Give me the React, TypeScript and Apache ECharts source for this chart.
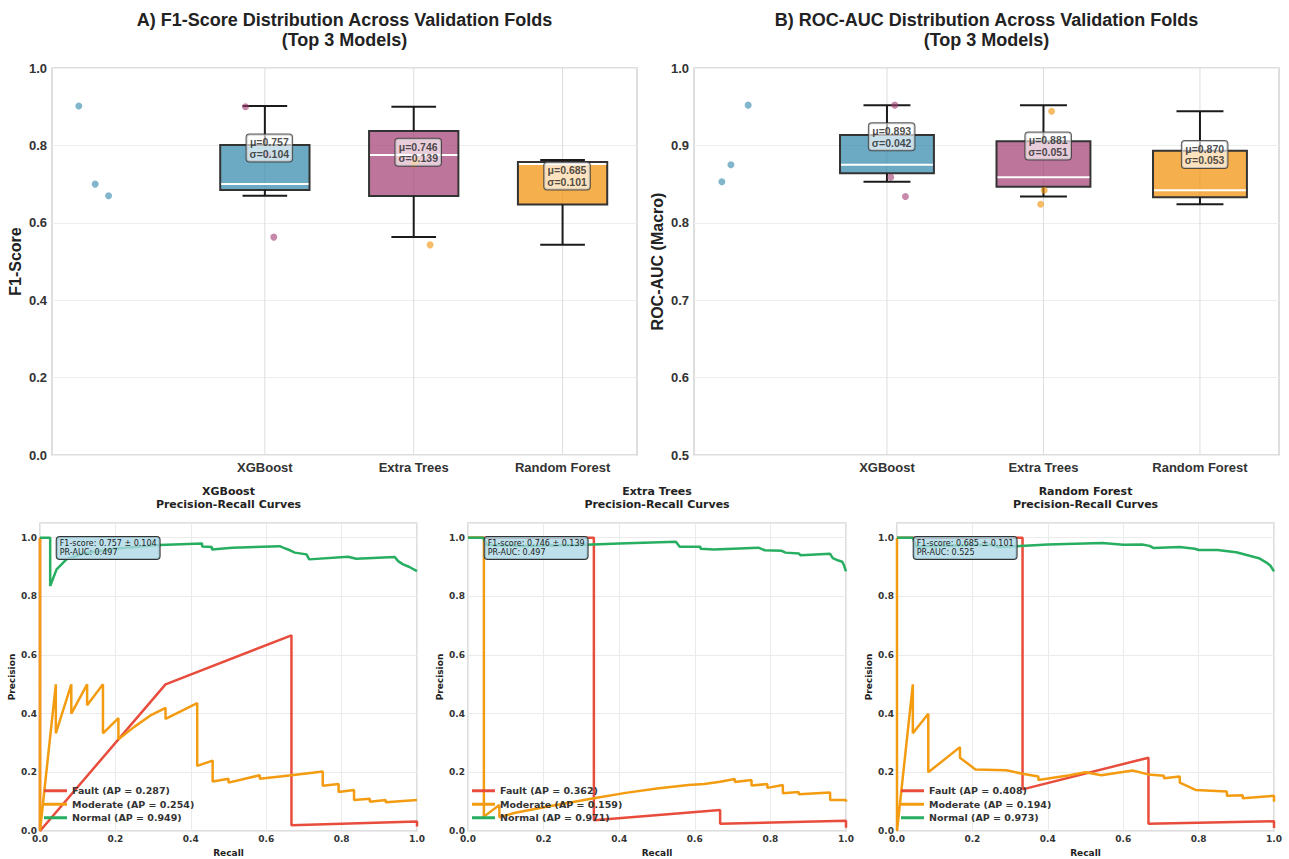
import React, { useEffect, useRef } from 'react';
import * as echarts from 'echarts';

// ---------------- data ----------------
const MODELS = ['XGBoost', 'Extra Trees', 'Random Forest'];
const MODEL_COLORS = ['#2E86AB', '#A23B72', '#F18F01'];

const F1_FOLDS = [[0.902, 0.700, 0.670], [0.900, 0.775, 0.563], [0.752, 0.762, 0.543]];
const F1_STRIP_X = [[-1.25, -1.14, -1.05], [-0.13, 0.02, 0.06], [1.0, 1.02, 1.11]];
const F1_MEAN = [0.757, 0.746, 0.685];
const F1_STD = [0.104, 0.139, 0.101];

const ROC_FOLDS = [[0.853, 0.875, 0.952], [0.952, 0.859, 0.834], [0.944, 0.842, 0.824]];
const ROC_STRIP_X = [[-1.055, -0.997, -0.887], [0.05, 0.024, 0.118], [1.052, 1.005, 0.982]];
const ROC_MEAN = [0.893, 0.881, 0.870];
const ROC_STD = [0.042, 0.051, 0.053];

const PR_AUC = [0.497, 0.497, 0.525];
const CLASSES = ['Fault', 'Moderate', 'Normal'];
const CLASS_COLORS = ['#e74c3c', '#f39c12', '#27ae60'];
const FAULT_AP = [0.287, 0.362, 0.408];
const MODERATE_AP = [0.254, 0.159, 0.194];
const NORMAL_AP = [0.949, 0.971, 0.973];

const XGB_FAULT = [[0, 1], [0, 0], [0.333, 0.5], [0.667, 0.667], [0.667, 0.02], [1, 0.032], [1, 0.015]];
const XGB_MODERATE = [[0, 1], [0, 0], [0.042, 0.5], [0.042, 0.333], [0.083, 0.5], [0.083, 0.4], [0.125, 0.5], [0.125, 0.429], [0.167, 0.5], [0.167, 0.333], [0.208, 0.385], [0.208, 0.313], [0.25, 0.355], [0.292, 0.393], [0.333, 0.42], [0.333, 0.382], [0.417, 0.436], [0.417, 0.222], [0.458, 0.24], [0.458, 0.169], [0.5, 0.178], [0.5, 0.165], [0.583, 0.19], [0.583, 0.178], [0.667, 0.19], [0.75, 0.203], [0.75, 0.154], [0.792, 0.16], [0.792, 0.133], [0.833, 0.14], [0.833, 0.106], [0.875, 0.11], [0.875, 0.1], [0.917, 0.106], [0.917, 0.098], [1, 0.106]];
const XGB_NORMAL = [[0, 1], [0.027, 1], [0.027, 0.835], [0.044, 0.892], [0.07, 0.926], [0.115, 0.946], [0.203, 0.963], [0.318, 0.975], [0.43, 0.98], [0.43, 0.97], [0.456, 0.968], [0.456, 0.96], [0.51, 0.966], [0.636, 0.971], [0.645, 0.966], [0.663, 0.957], [0.676, 0.949], [0.707, 0.943], [0.714, 0.926], [0.817, 0.935], [0.839, 0.928], [0.941, 0.934], [0.95, 0.92], [0.963, 0.909], [0.98, 0.9], [1, 0.886]];

const ET_FAULT = [[0, 1], [0.333, 1], [0.333, 0.037], [0.667, 0.072], [0.667, 0.025], [1, 0.035], [1, 0.011]];
const ET_MODERATE = [[0, 1], [0.042, 1], [0.042, 0.049], [0.083, 0.089], [0.083, 0.047], [0.125, 0.062], [0.208, 0.083], [0.333, 0.112], [0.417, 0.13], [0.5, 0.145], [0.583, 0.157], [0.625, 0.16], [0.667, 0.168], [0.706, 0.177], [0.706, 0.167], [0.75, 0.174], [0.75, 0.155], [0.792, 0.16], [0.792, 0.147], [0.833, 0.157], [0.833, 0.129], [0.875, 0.133], [0.875, 0.125], [0.958, 0.131], [0.958, 0.106], [1, 0.106], [1, 0.1]];
const ET_NORMAL = [[0, 1], [0.04, 1], [0.05, 0.975], [0.15, 0.972], [0.296, 0.975], [0.4, 0.98], [0.55, 0.986], [0.56, 0.969], [0.615, 0.969], [0.615, 0.962], [0.65, 0.96], [0.768, 0.966], [0.785, 0.957], [0.83, 0.955], [0.84, 0.949], [0.875, 0.946], [0.88, 0.94], [0.958, 0.945], [0.965, 0.93], [0.98, 0.922], [0.99, 0.918], [0.995, 0.905], [1, 0.885]];

const RF_FAULT = [[0, 1], [0.333, 1], [0.333, 0.142], [0.667, 0.25], [0.667, 0.025], [1, 0.033], [1, 0.01]];
const RF_MODERATE = [[0, 1], [0, 0], [0.042, 0.5], [0.042, 0.333], [0.083, 0.4], [0.083, 0.2], [0.167, 0.286], [0.167, 0.25], [0.208, 0.21], [0.29, 0.207], [0.333, 0.195], [0.375, 0.186], [0.375, 0.174], [0.458, 0.19], [0.5, 0.2], [0.542, 0.19], [0.625, 0.206], [0.667, 0.193], [0.708, 0.188], [0.708, 0.18], [0.75, 0.186], [0.75, 0.165], [0.792, 0.14], [0.875, 0.135], [0.875, 0.12], [0.917, 0.122], [0.917, 0.112], [1, 0.12], [1, 0.1]];
const RF_NORMAL = [[0, 1], [0.042, 1], [0.05, 0.97], [0.1, 0.972], [0.25, 0.976], [0.27, 0.968], [0.3, 0.97], [0.4, 0.977], [0.545, 0.982], [0.6, 0.976], [0.65, 0.977], [0.67, 0.972], [0.68, 0.965], [0.75, 0.968], [0.79, 0.962], [0.8, 0.958], [0.85, 0.958], [0.9, 0.95], [0.93, 0.94], [0.96, 0.93], [0.98, 0.915], [0.99, 0.905], [1, 0.885]];

const PR_CURVES = [
  [XGB_FAULT, XGB_MODERATE, XGB_NORMAL],
  [ET_FAULT, ET_MODERATE, ET_NORMAL],
  [RF_FAULT, RF_MODERATE, RF_NORMAL],
];
const AP_BY_CLASS = [FAULT_AP, MODERATE_AP, NORMAL_AP];

// ---------------- layout ----------------
const TOP_GRIDS = [
  { left: 52, top: 68, width: 585, height: 387, xMin: -1.43, xMax: 2.5, yMin: 0, yMax: 1, yInt: 0.2, name: 'F1-Score' },
  { left: 694, top: 68, width: 585, height: 387, xMin: -1.233, xMax: 2.505, yMin: 0.5, yMax: 1, yInt: 0.1, name: 'ROC-AUC (Macro)' },
];
const BOT_GRIDS = [
  { left: 40, top: 523, width: 377, height: 308 },
  { left: 468, top: 523, width: 378, height: 308 },
  { left: 897, top: 523, width: 377, height: 308 },
];
const TOP_TITLES = [
  'A) F1-Score Distribution Across Validation Folds\n(Top 3 Models)',
  'B) ROC-AUC Distribution Across Validation Folds\n(Top 3 Models)',
];

const SANS = 'Liberation Sans';
const DV = 'DejaVu Sans';
const BOX_HALF = 0.3;
const CAP_HALF = 0.15;

function hexA(hex: string, a: number) {
  const n = parseInt(hex.slice(1), 16);
  return `rgba(${(n >> 16) & 255},${(n >> 8) & 255},${n & 255},${a})`;
}
function quantile(s: number[], p: number) {
  const pos = (s.length - 1) * p;
  const lo = Math.floor(pos), hi = Math.ceil(pos);
  return s[lo] + (s[hi] - s[lo]) * (pos - lo);
}
function boxStats(vals: number[]) {
  const s = [...vals].sort((a, b) => a - b);
  const q1 = quantile(s, 0.25), med = quantile(s, 0.5), q3 = quantile(s, 0.75);
  const iqr = q3 - q1;
  const lo = Math.min(...s.filter((v) => v >= q1 - 1.5 * iqr));
  const hi = Math.max(...s.filter((v) => v <= q3 + 1.5 * iqr));
  return [lo, q1, med, q3, hi];
}

const renderBox = (params: any, api: any) => {
  const x = api.value(0);
  const lo = api.value(1), q1 = api.value(2), med = api.value(3), q3 = api.value(4), hi = api.value(5);
  const color = MODEL_COLORS[params.dataIndex];
  const [bl, y3] = api.coord([x - BOX_HALF, q3]);
  const [br, y1] = api.coord([x + BOX_HALF, q1]);
  const cl = api.coord([x - CAP_HALF, hi])[0];
  const cr = api.coord([x + CAP_HALF, hi])[0];
  const [xc, ym] = api.coord([x, med]);
  const yLo = api.coord([x, lo])[1];
  const yHi = api.coord([x, hi])[1];
  const wk = { stroke: '#1a1a1a', lineWidth: 2 };
  return {
    type: 'group',
    children: [
      { type: 'rect', shape: { x: bl, y: y3, width: br - bl, height: y1 - y3 }, style: { fill: hexA(color, 0.7), stroke: '#333333', lineWidth: 2 } },
      { type: 'line', shape: { x1: xc, y1: y1, x2: xc, y2: yLo }, style: wk },
      { type: 'line', shape: { x1: xc, y1: y3, x2: xc, y2: yHi }, style: wk },
      { type: 'line', shape: { x1: cl, y1: yLo, x2: cr, y2: yLo }, style: wk },
      { type: 'line', shape: { x1: cl, y1: yHi, x2: cr, y2: yHi }, style: wk },
      { type: 'line', shape: { x1: bl + 1, y1: ym, x2: br - 1, y2: ym }, style: { stroke: '#ffffff', lineWidth: 2 } },
    ],
  };
};

const renderVGrid = (params: any, api: any) => {
  const cs = params.coordSys;
  const x = api.coord([api.value(0), api.value(1)])[0];
  return { type: 'line', shape: { x1: x, y1: cs.y, x2: x, y2: cs.y + cs.height }, style: { stroke: '#dddddd', lineWidth: 1 } };
};

function buildOption() {
  const grids: any[] = [];
  const xAxes: any[] = [];
  const yAxes: any[] = [];
  const series: any[] = [];
  const titles: any[] = [];
  const legends: any[] = [];
  const graphics: any[] = [];

  const folds = [F1_FOLDS, ROC_FOLDS];
  const stripX = [F1_STRIP_X, ROC_STRIP_X];
  const means = [F1_MEAN, ROC_MEAN];
  const stds = [F1_STD, ROC_STD];

  TOP_GRIDS.forEach((g, k) => {
    grids.push({ left: g.left, top: g.top, width: g.width, height: g.height, show: true, borderColor: '#d4d4d4', borderWidth: 1.5, backgroundColor: '#ffffff' });
    titles.push({
      text: TOP_TITLES[k], left: g.left + g.width / 2, top: 10, textAlign: 'center', padding: 0,
      textStyle: { fontFamily: SANS, fontWeight: 'bold', fontSize: 18, lineHeight: 20, color: '#222222' },
    });
    xAxes.push({
      gridIndex: k, type: 'value', min: g.xMin, max: g.xMax,
      axisLine: { show: false }, axisTick: { show: false, customValues: [0, 1, 2] }, splitLine: { show: false },
      axisLabel: {
        customValues: [0, 1, 2], margin: 6,
        fontFamily: SANS, fontWeight: 'bold', fontSize: 13, color: '#333333',
        formatter: (v: number) => {
          const i = Math.round(v);
          return Math.abs(v - i) < 1e-6 && i >= 0 && i < MODELS.length ? MODELS[i] : '';
        },
      },
    });
    yAxes.push({
      gridIndex: k, type: 'value', min: g.yMin, max: g.yMax, interval: g.yInt,
      name: g.name, nameLocation: 'middle', nameRotate: 90, nameGap: 29,
      nameTextStyle: { fontFamily: SANS, fontWeight: 'bold', fontSize: 16, color: '#222222' },
      axisLine: { show: false }, axisTick: { show: false },
      splitLine: { show: true, lineStyle: { color: '#eeeeee', width: 1 } },
      axisLabel: { margin: 5, fontFamily: SANS, fontWeight: 'bold', fontSize: 13, color: '#333333', formatter: (v: number) => v.toFixed(1) },
    });
    series.push({
      type: 'custom', xAxisIndex: k, yAxisIndex: k, z: 1, silent: true,
      renderItem: renderVGrid, data: MODELS.map((_, i) => [i, g.yMin]), encode: { x: 0, y: 1 },
    });
    series.push({
      type: 'custom', xAxisIndex: k, yAxisIndex: k, z: 2, silent: true,
      renderItem: renderBox,
      data: folds[k].map((vals, i) => [i, ...boxStats(vals)]),
      encode: { x: 0, y: [1, 2, 3, 4, 5] },
    });
    MODELS.forEach((m, i) => {
      series.push({
        type: 'scatter', xAxisIndex: k, yAxisIndex: k, z: 3, silent: true, symbolSize: 7,
        itemStyle: { color: MODEL_COLORS[i], opacity: 0.6 },
        data: folds[k][i].map((v, j) => [stripX[k][i][j], v]),
      });
    });
    series.push({
      type: 'scatter', xAxisIndex: k, yAxisIndex: k, z: 5, silent: true, symbolSize: 1,
      itemStyle: { color: 'rgba(0,0,0,0)' },
      data: MODELS.map((_, i) => [i + 0.03, means[k][i]]),
      label: {
        show: true, position: 'top', distance: 0,
        formatter: (p: any) => `μ=${means[k][p.dataIndex].toFixed(3)}\nσ=${stds[k][p.dataIndex].toFixed(3)}`,
        fontFamily: SANS, fontWeight: 'bold', fontSize: 10.5, lineHeight: 11.5, color: '#222222',
        backgroundColor: 'rgba(255,255,255,0.8)', borderColor: '#333333', borderWidth: 1, borderRadius: 3,
        padding: [2, 3, 2, 3], align: 'center',
      },
    });
  });

  BOT_GRIDS.forEach((g, m) => {
    const gi = m + 2;
    grids.push({ left: g.left, top: g.top, width: g.width, height: g.height, show: true, borderColor: '#d4d4d4', borderWidth: 1.5, backgroundColor: '#ffffff' });
    titles.push({
      text: `${MODELS[m]}\nPrecision-Recall Curves`, left: g.left + g.width / 2, top: 485, textAlign: 'center', padding: 0,
      textStyle: { fontFamily: DV, fontWeight: 'bold', fontSize: 11, lineHeight: 13.3, color: '#222222' },
    });
    xAxes.push({
      gridIndex: gi, type: 'value', min: 0, max: 1, interval: 0.2,
      name: 'Recall', nameLocation: 'middle', nameGap: 17,
      nameTextStyle: { fontFamily: DV, fontWeight: 'bold', fontSize: 9, color: '#222222' },
      axisLine: { show: false }, axisTick: { show: false },
      splitLine: { show: true, lineStyle: { color: '#ebebeb', width: 1 } },
      axisLabel: { margin: 3, fontFamily: DV, fontWeight: 'bold', fontSize: 9, color: '#333333', formatter: (v: number) => v.toFixed(1) },
    });
    yAxes.push({
      gridIndex: gi, type: 'value', min: 0, max: 1.05, interval: 0.2,
      name: 'Precision', nameLocation: 'middle', nameRotate: 90, nameGap: 24,
      nameTextStyle: { fontFamily: DV, fontWeight: 'bold', fontSize: 9, color: '#222222' },
      axisLine: { show: false }, axisTick: { show: false },
      splitLine: { show: true, lineStyle: { color: '#ebebeb', width: 1 } },
      axisLabel: { margin: 3, fontFamily: DV, fontWeight: 'bold', fontSize: 9, color: '#333333', formatter: (v: number) => (v <= 1.0001 ? v.toFixed(1) : '') },
    });
    const names: string[] = [];
    CLASSES.forEach((c, ci) => {
      const name = `${c} (AP = ${AP_BY_CLASS[ci][m].toFixed(3)})`;
      names.push(name);
      series.push({
        type: 'line', name, xAxisIndex: gi, yAxisIndex: gi, z: 2 + ci, silent: true,
        showSymbol: false, symbol: 'none',
        lineStyle: { color: CLASS_COLORS[ci], width: 2.5 }, itemStyle: { color: CLASS_COLORS[ci] },
        data: PR_CURVES[m][ci],
      });
    });
    legends.push({
      data: names, orient: 'vertical', left: g.left + 4, top: 785, icon: 'rect', itemWidth: 23, itemHeight: 3,
      itemGap: 2, padding: 0, selectedMode: false,
      textStyle: { fontFamily: DV, fontWeight: 'bold', fontSize: 9.5, color: '#333333', lineHeight: 11.5 },
    });
    graphics.push({
      type: 'text', x: g.left + 16.7, y: 537, z: 100, silent: true,
      style: {
        text: `F1-score: ${F1_MEAN[m].toFixed(3)} ± ${F1_STD[m].toFixed(3)}\nPR-AUC: ${PR_AUC[m].toFixed(3)}`,
        fontFamily: DV, fontSize: 8, lineHeight: 9, fill: '#222222',
        backgroundColor: 'rgba(173,216,230,0.8)', borderColor: '#333333', borderWidth: 1, borderRadius: 3,
        padding: [2, 3, 2, 3], align: 'left', verticalAlign: 'top',
      },
    });
  });

  return {
    animation: false,
    backgroundColor: '#ffffff',
    title: titles,
    legend: legends,
    grid: grids,
    xAxis: xAxes,
    yAxis: yAxes,
    series,
    graphic: graphics,
  };
}

export default function App() {
  const ref = useRef<HTMLDivElement>(null);
  useEffect(() => {
    document.body.style.margin = '0';
    if (!ref.current) return;
    const chart = echarts.init(ref.current, undefined, { renderer: 'svg' });
    chart.setOption(buildOption() as any);
    return () => chart.dispose();
  }, []);
  return <div ref={ref} style={{ width: 1289, height: 859 }} />;
}
